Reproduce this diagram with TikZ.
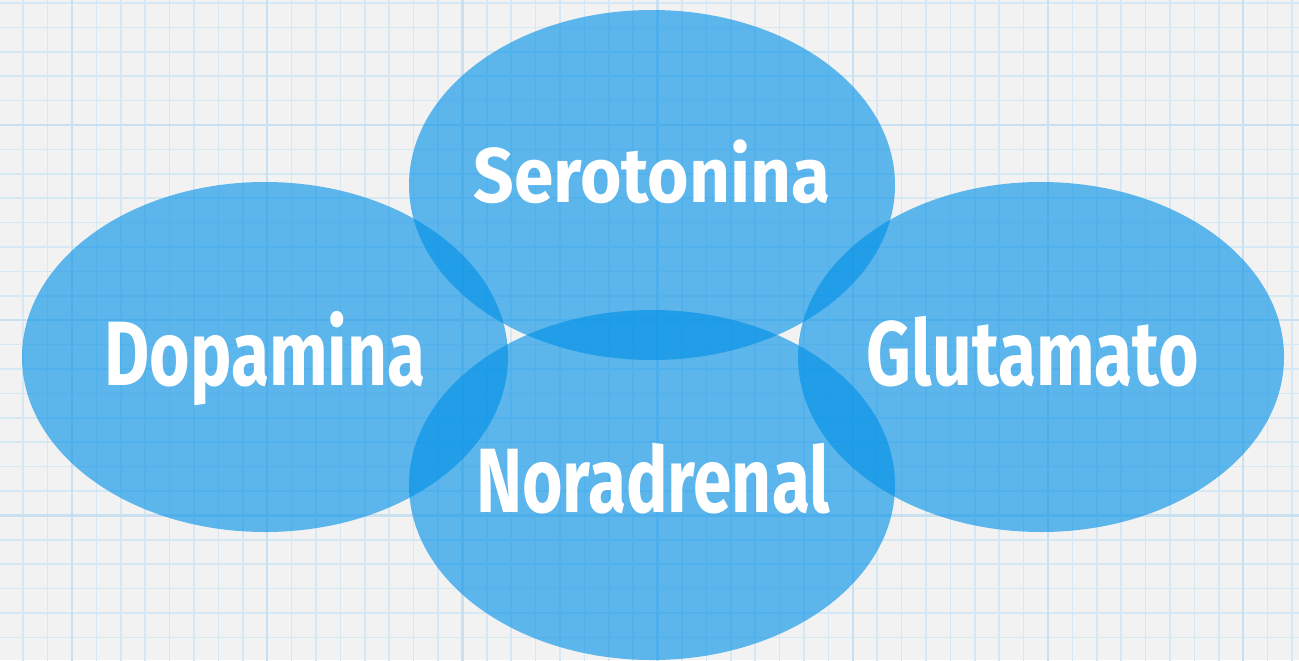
\documentclass[tikz,border=0pt]{standalone}
\usepackage{fontspec}
\newfontfamily\chalkfont[FakeStretch=0.76]{Fira Sans}
\newfontfamily\chalkwide[FakeStretch=0.92]{Fira Sans}
\usetikzlibrary{shapes.geometric}
\definecolor{paper}{RGB}{242,242,242}
\definecolor{gridminor}{RGB}{214,232,244}
\definecolor{gridmajor}{RGB}{200,224,240}
\definecolor{vennblue}{RGB}{0,144,232}
\tikzset{
    venn/.style = {ellipse, fill = vennblue, fill opacity = 0.62, minimum width = 4.86cm, minimum height = 3.5cm, inner sep = 0pt},
    vennlabel/.style = {text = white, font = \chalkfont\bfseries\fontsize{26}{30}\selectfont, anchor = base, inner sep = 0pt},
    minorline/.style = {draw = gridminor, line width = 0.45pt},
    majorline/.style = {draw = gridmajor, line width = 0.7pt}
}
\begin{document}
\begin{tikzpicture}
    % paper background
    \useasboundingbox (0,0) rectangle (12.99,6.6);
    \fill[paper] (0,0) rectangle (12.99,6.6);
    \begin{scope}
        \clip (0,0) rectangle (12.99,6.6);
        \draw[minorline, shift = {(-0.012,-0.018)}] (0,0) grid[step = 0.244] (13.2,6.8);
        \draw[majorline, shift = {(0.72,1.446)}] (-2,-2) grid[step = 1.952] (13,6);
    \end{scope}
    % the four sets
    \node[venn] (dopa) at (2.65,3.03) {};
    \node[venn] (sero) at (6.52,4.75) {};
    \node[venn] (nora) at (6.52,1.75) {};
    \node[venn] (glut) at (10.41,3.03) {};
    % names
    \node[vennlabel] (dopatext) at (2.65,2.75) {Dopamina};
    \node[vennlabel, font = \chalkwide\bfseries\fontsize{22}{26}\selectfont] (serotext) at (6.52,4.58) {Serotonina};
    \node[vennlabel] (noratext) at (6.53,1.48) {Noradrenal};
    \node[vennlabel] (gluttext) at (10.33,2.75) {Glutamato};
\end{tikzpicture}
\end{document}
